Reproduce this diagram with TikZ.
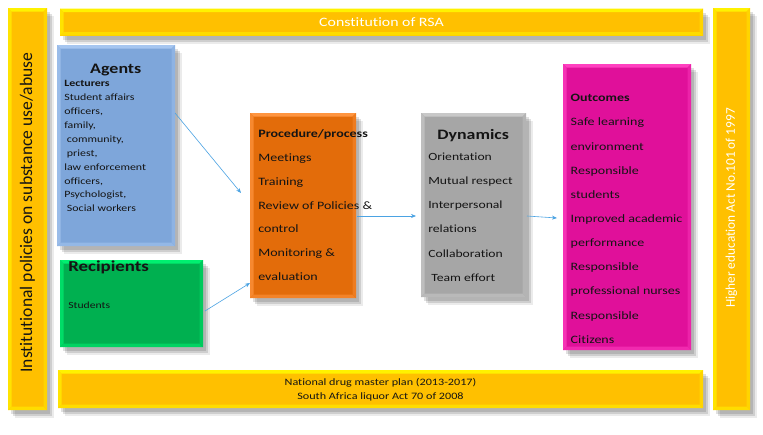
\documentclass[tikz,border=0pt]{standalone}
\usepackage{fontspec}
\setmainfont{Carlito}[FakeStretch=1.24,Ligatures={NoCommon}]
\newfontfamily\rotfont{Carlito}[Ligatures={NoCommon}]
\usetikzlibrary{shadows,calc,arrows.meta}
\definecolor{goldc}{HTML}{FFC000}
\definecolor{goldl}{HTML}{FFF200}
\definecolor{agc}{HTML}{7EA6DA}
\definecolor{agl}{HTML}{A6C6F0}
\definecolor{rec}{HTML}{00B050}
\definecolor{rel}{HTML}{00F070}
\definecolor{prc}{HTML}{E36C0A}
\definecolor{prl}{HTML}{FF9540}
\definecolor{dyc}{HTML}{A6A6A6}
\definecolor{dyl}{HTML}{C8C8C8}
\definecolor{ouc}{HTML}{E0109A}
\definecolor{oul}{HTML}{FF40C0}
\definecolor{arrc}{HTML}{4BA3E3}
\definecolor{txc}{HTML}{141414}
\newcommand{\fs}[2]{\fontsize{#1}{#2}\selectfont}
\tikzset{
  bevel/.style 2 args={fill=#1, inner sep=0pt, outer sep=0pt,
    drop shadow={shadow xshift=7pt,shadow yshift=-8pt,opacity=0.08,fill=black},
    drop shadow={shadow xshift=5pt,shadow yshift=-6pt,opacity=0.12,fill=black},
    drop shadow={shadow xshift=3pt,shadow yshift=-4pt,opacity=0.12,fill=black},
    path picture={
    \path (path picture bounding box.north west) coordinate (bnw)
          (path picture bounding box.north east) coordinate (bne)
          (path picture bounding box.south west) coordinate (bsw)
          (path picture bounding box.south east) coordinate (bse);
    \fill[#2] (bnw) -- (bne) -- ($(bne)+(-3.5pt,-3.5pt)$) -- ($(bnw)+(3.5pt,-3.5pt)$) -- cycle;
    \fill[#2!70!#1] (bnw) -- ($(bnw)+(3.5pt,-3.5pt)$) -- ($(bsw)+(3.5pt,3.5pt)$) -- (bsw) -- cycle;
    \fill[#2!55!#1] (bsw) -- ($(bsw)+(3.5pt,3.5pt)$) -- ($(bse)+(-3.5pt,3.5pt)$) -- (bse) -- cycle;
    \fill[#2!40!#1] (bse) -- ($(bse)+(-3.5pt,3.5pt)$) -- ($(bne)+(-3.5pt,-3.5pt)$) -- (bne) -- cycle;
  }},
  txt/.style={inner sep=0pt, outer sep=0pt, text=txc},
  arr/.style={draw=arrc, line width=0.6pt, -{Stealth[length=5pt,width=4pt]}}
}
\begin{document}
\begin{tikzpicture}[x=1pt,y=-1pt]
\useasboundingbox[fill=white] (0,0) rectangle (763,434);
% frame bars
\node[bevel={goldc}{goldl}, minimum width=39pt, minimum height=402pt] (leftbar) at (27.5,209) {};
\node[bevel={goldc}{goldl}, minimum width=37pt, minimum height=402pt] (rightbar) at (731.5,209) {};
\node[bevel={goldc}{goldl}, minimum width=643pt, minimum height=27pt] (topbar) at (381.5,22) {};
\node[bevel={goldc}{goldl}, minimum width=645pt, minimum height=38pt] (botbar) at (380.5,389) {};
% boxes
\node[bevel={agc}{agl}, minimum width=118pt, minimum height=201pt] (agents) at (116,145.5) {};
\node[bevel={rec}{rel}, minimum width=143pt, minimum height=87pt] (recip) at (131.5,303.5) {};
\node[bevel={prc}{prl}, minimum width=106pt, minimum height=185pt] (proc) at (303,205.5) {};
\node[bevel={dyc}{dyl}, minimum width=105pt, minimum height=184pt] (dyn) at (473.5,205) {};
\node[bevel={ouc}{oul}, minimum width=128pt, minimum height=286pt] (outc) at (627,207) {};
% arrows
\draw[arr] ([yshift=32.5pt]agents.east) -- ([xshift=-9pt,yshift=12.5pt]proc.west);
\draw[arr] ([xshift=2pt,yshift=-7.5pt]recip.east) -- ([yshift=-77.5pt]proc.west);
\draw[arr] ([xshift=1pt,yshift=-10.5pt]proc.east) -- ([xshift=-5pt,yshift=-11pt]dyn.west);
\draw[arr] ([xshift=1pt,yshift=-11pt]dyn.east) -- ([xshift=-6pt,yshift=-11pt]outc.west);
% bar texts
\node[txt, text=white, font=\fs{12.8}{15}] (toptext) at (381.5,22) {Constitution of RSA};
\node[txt, align=center, font=\fs{9.8}{14}] (bottext) at (380.5,390) {National drug master plan (2013-2017)\\South Africa liquor Act 70 of 2008};
\node[txt, rotate=90, font=\rotfont\fs{17.6}{20}] (lefttext) at (27.5,212.5) {Institutional policies on substance use/abuse};
\node[txt, rotate=90, text=white, font=\rotfont\fs{13.3}{16}] (righttext) at (731.5,208) {Higher education Act No.101 of 1997};
% agents
\node[txt, anchor=base, font=\fs{14.5}{17}\bfseries] (aghead) at (115.8,73.3) {Agents};
\node[txt, anchor=base west, font=\fs{9.6}{13.9}] (agbody) at (64.3,86.7) {\begin{tabular}[t]{@{}l@{}}\textbf{Lecturers}\\Student affairs\\officers,\\family,\\~community,\\~priest,\\law enforcement\\officers,\\Psychologist,\\~Social workers\end{tabular}};
% recipients
\node[txt, anchor=base west, font=\fs{15.2}{18}\bfseries] (rehead) at (68.3,271.7) {Recipients};
\node[txt, anchor=base west, font=\fs{9.4}{12}] (rebody) at (68.3,308) {Students};
% procedure
\node[txt, anchor=base west, font=\fs{11.3}{23.8}] (prbody) at (258.3,137.7) {\begin{tabular}[t]{@{}l@{}}\textbf{Procedure/process}\\Meetings\\Training\\Review of Policies \&\\control\\Monitoring \&\\evaluation\end{tabular}};
% dynamics
\node[txt, anchor=base, font=\fs{14.4}{17}\bfseries] (dyhead) at (473.2,139.3) {Dynamics};
\node[txt, anchor=base west, font=\fs{11}{24.3}] (dybody) at (428.3,160) {\begin{tabular}[t]{@{}l@{}}Orientation\\Mutual respect\\Interpersonal\\relations\\Collaboration\\~Team effort\end{tabular}};
% outcomes
\node[txt, anchor=base west, font=\fs{11.3}{24.16}] (oubody) at (570.7,101.7) {\begin{tabular}[t]{@{}l@{}}\textbf{Outcomes}\\Safe learning\\environment\\Responsible\\students\\Improved academic\\performance\\Responsible\\professional nurses\\Responsible\\Citizens\end{tabular}};
\end{tikzpicture}
\end{document}
